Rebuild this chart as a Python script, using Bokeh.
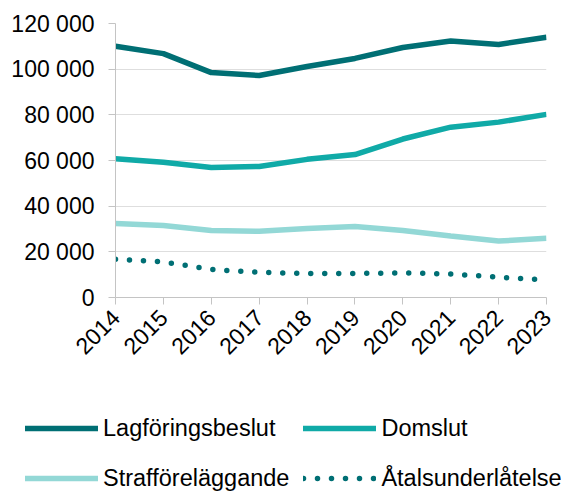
import math
from bokeh.plotting import figure
from bokeh.models import Range1d, FixedTicker, Legend, LegendItem, ColumnDataSource
from bokeh.embed import file_html
from bokeh.resources import INLINE

years = [2014, 2015, 2016, 2017, 2018, 2019, 2020, 2021, 2022, 2023]
lagforingsbeslut = [110000, 106800, 98500, 97200, 101200, 104700, 109500, 112300, 110800, 114000]
domslut = [60800, 59200, 56900, 57400, 60500, 62600, 69400, 74600, 76800, 80200]
strafforelaggande = [32400, 31500, 29300, 29000, 30200, 31100, 29300, 26900, 24700, 26000]
atalsunderlatelse = [16700, 15600, 12300, 11000, 10500, 10500, 10800, 10300, 8900, 7700]

series_names = ["Lagföringsbeslut", "Domslut", "Strafföreläggande", "Åtalsunderlåtelse"]
series_colors = ["#006f74", "#10aaa7", "#93d8d6", "#006f74"]
y_ticks = [0, 20000, 40000, 60000, 80000, 100000, 120000]
y_tick_labels = ["0", "20 000", "40 000", "60 000", "80 000", "100 000", "120 000"]
x_tick_labels = [str(y) for y in years]

FONT = "Liberation Sans"

src = ColumnDataSource(data=dict(year=years, s0=lagforingsbeslut, s1=domslut,
                                 s2=strafforelaggande, s3=atalsunderlatelse))
cols = ["s0", "s1", "s2", "s3"]
dashes = ["solid", "solid", "solid", "0 14"]

p = figure(width=571, height=390, output_backend="svg", toolbar_location=None,
           x_range=Range1d(years[0], years[-1]), y_range=Range1d(y_ticks[0], y_ticks[-1]),
           min_border_left=115, min_border_right=25, min_border_top=23, min_border_bottom=93)
p.outline_line_color = None
p.xgrid.grid_line_color = None
p.ygrid.grid_line_color = "#dedede"
p.ygrid.grid_line_width = 1
p.ygrid.ticker = FixedTicker(ticks=y_ticks)

for ax in (p.xaxis[0], p.yaxis[0]):
    ax.axis_line_color = "#c4c4c4"
    ax.axis_line_width = 1
    ax.major_tick_line_color = "#c4c4c4"
    ax.major_tick_out = 7
    ax.major_tick_in = 0
    ax.minor_tick_line_color = None
    ax.major_label_text_font = FONT
    ax.major_label_text_font_size = "23px"
    ax.major_label_text_color = "#000000"

p.yaxis[0].ticker = FixedTicker(ticks=y_ticks)
p.yaxis[0].major_label_overrides = {t: l for t, l in zip(y_ticks, y_tick_labels)}
p.yaxis[0].major_label_standoff = 14
p.xaxis[0].ticker = FixedTicker(ticks=years)
p.xaxis[0].major_label_overrides = {t: l for t, l in zip(years, x_tick_labels)}
p.xaxis[0].major_label_orientation = math.pi / 4
p.xaxis[0].major_label_standoff = 9

for c, col, dash in zip(cols, series_colors, dashes):
    p.line("year", c, source=src, line_color=col, line_width=5.5, line_dash=dash,
           line_cap="round" if dash != "solid" else "butt")

# separate legend canvas below the chart (own frame so the legend is not clipped)
lg = figure(width=571, height=101, output_backend="svg", toolbar_location=None,
            x_range=Range1d(0, 1), y_range=Range1d(0, 1), min_border=0)
lg.outline_line_color = None
lg.axis.visible = False
lg.grid.visible = False
items = []
for c, name, col, dash in zip(cols, series_names, series_colors, dashes):
    r = lg.line("year", c, source=src, line_color=col, line_width=5.5, line_dash=dash,
                line_cap="round")
    items.append(LegendItem(label=name, renderers=[r]))

legend = Legend(items=items, location=(25, -5), orientation="horizontal", ncols=2,
                label_text_font=FONT, label_text_font_size="23.5px", label_text_color="#000000",
                label_standoff=5, glyph_width=73, glyph_height=36, label_height=36,
                spacing=14, padding=0, margin=0, border_line_alpha=0, background_fill_alpha=0)
lg.add_layout(legend, "center")

open("out.html", "w").write(file_html([p, lg], INLINE))
